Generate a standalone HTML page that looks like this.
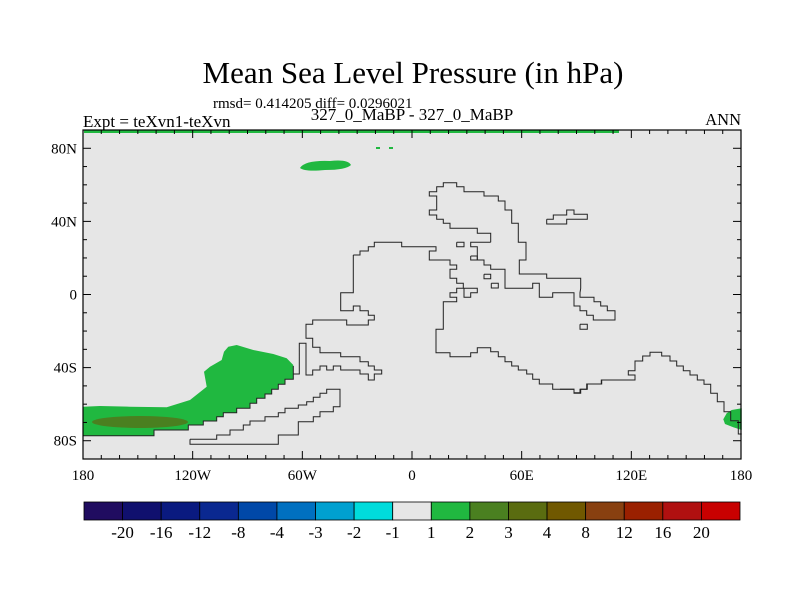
<!DOCTYPE html>
<html><head><meta charset="utf-8"><style>
body{margin:0;background:#fff;}
svg{display:block;font-family:"Liberation Serif",serif;}
</style></head><body>
<svg id="chart" width="800" height="600" viewBox="0 0 800 600">
<text x="413" y="83" font-size="31" text-anchor="middle">Mean Sea Level Pressure (in hPa)</text>
<text x="213" y="108" font-size="15">rmsd= 0.414205 diff= 0.0296021</text>
<text x="412" y="120" font-size="17" text-anchor="middle">327_0_MaBP - 327_0_MaBP</text>
<text x="83" y="127" font-size="17">Expt = teXvn1-teXvn</text>
<text x="741" y="125" font-size="16.5" text-anchor="end">ANN</text>
<g id="map">
<rect x="83" y="130" width="658" height="329" fill="#e6e6e6"/>
<g id="fills"></g>
<g id="coast" fill="none" stroke="#222" stroke-width="1"></g>
<g id="ticks" stroke="#000" stroke-width="1"></g>
<rect x="83" y="130" width="658" height="329" fill="none" stroke="#000" stroke-width="1.2"/>
</g>
<g id="labels" font-size="15"></g>
<g id="cbar"></g>
</svg>
<script>
const levels=["-20","-16","-12","-8","-4","-3","-2","-1","1","2","3","4","8","12","16","20"];
const levelLabels=["-20","-16","-12","-8","-4","-3","-2","-1","1","2","3","4","8","12","16","20"];
const colors=["#200c60","#10106e","#0a1a80","#0a2890","#0048a8","#0070c0","#00a0d0","#00dcdc","#e6e6e6","#20b840","#4a8020","#5a6c10","#705800","#884010","#9a2000","#b01010","#c80000"];
const lonTicks=[-180,-120,-60,0,60,120,180];
const lonLabels=["180","120W","60W","0","60E","120E","180"];
const latTicks=[80,40,0,-40,-80];
const latLabels=["80N","40N","0","40S","80S"];
const NS="http://www.w3.org/2000/svg";
const X=lon=>83+(lon+180)*658/360;
const Y=lat=>130+(90-lat)*329/180;
function mk(tag,attrs,parent){const e=document.createElementNS(NS,tag);for(const k in attrs)e.setAttribute(k,attrs[k]);parent.appendChild(e);return e;}
const tg=document.getElementById('ticks');
for(let lon=-180;lon<=180;lon+=10){const maj=lon%60===0;const L=maj?8:4;
const a=mk('line',{x1:X(lon),x2:X(lon),y1:459,y2:459-L},tg);
const b=mk('line',{x1:X(lon),x2:X(lon),y1:130,y2:130+L},tg);}
for(let lat=-90;lat<=90;lat+=10){const maj=lat%40===0;const L=maj?8:4;
const a=mk('line',{x1:83,x2:83+L,y1:Y(lat),y2:Y(lat)},tg);
const b=mk('line',{x1:741,x2:741-L,y1:Y(lat),y2:Y(lat)},tg);}
const lg=document.getElementById('labels');
lonTicks.forEach((v,i)=>{const t=mk('text',{x:X(v),y:480,'text-anchor':'middle'},lg);t.textContent=lonLabels[i];
});
latTicks.forEach((v,i)=>{const t=mk('text',{x:77,y:Y(v)+5,'text-anchor':'end'},lg);t.textContent=latLabels[i];
});
const cg=document.getElementById('cbar');const cw=656/colors.length;
colors.forEach((c,i)=>{const r=mk('rect',{x:84+i*cw,y:502,width:cw,height:18,fill:c,stroke:'#000','stroke-width':0.8},cg);
});
levelLabels.forEach((s,i)=>{const t=mk('text',{x:84+(i+1)*cw,y:538,'font-size':17,'text-anchor':'middle'},cg);t.textContent=s;
});
const fg=document.getElementById('fills');
function zp(pts,ox,oy,s){return pts.map(p=>(ox+p[0]/s).toFixed(1)+','+(oy+p[1]/s).toFixed(1)).join(' ');}
const greenBig=[[10,350],[60,348],[150,350],[260,352],[330,330],[380,290],[372,245],[390,230],[425,210],[432,185],[445,170],[470,165],[520,180],[580,192],[620,205],[640,225],[640,268],[615,268],[615,283],[595,283],[595,298],[575,298],[575,312],[555,312],[555,325],[530,325],[530,340],[510,340],[510,355],[470,355],[470,368],[430,368],[430,380],[410,380],[410,393],[370,393],[370,405],[325,405],[325,420],[222,420],[222,437],[10,437]];
let p=mk('polygon',{points:zp(greenBig,80,290,3),fill:'#20b840'},fg);
p=mk('ellipse',{cx:140,cy:422,rx:48,ry:6,fill:'#4a8020'},fg);
p=mk('path',{d:'M300,168 Q305,160 330,161 Q348,159 351,165 Q346,170 325,170 Q305,172 300,168Z',fill:'#20b840'},fg);
p=mk('rect',{x:84,y:130,width:535,height:3,fill:'#20b840'},fg);
p=mk('rect',{x:376,y:147,width:4,height:2,fill:'#20b840'},fg);
p=mk('rect',{x:389,y:147,width:4,height:2,fill:'#20b840'},fg);
p=mk('polygon',{points:zp([[490,268],[500,250],[515,240],[545,235],[545,300],[520,292],[495,282]],560,330,3),fill:'#20b840'},fg);
const cst=document.getElementById('coast');
const z3=[
[[220,255],[240,255],[240,243],[265,243],[265,230],[283,230],[283,217],[365,217],[365,230],[468,230],[468,243],[448,243],[448,270],[510,270],[510,285],[530,285],[530,298],[510,298],[510,325],[530,325],[530,340],[550,340],[550,355],[530,355],[530,368],[510,368],[510,382],[530,382],[530,395],[490,395],[490,478],[468,478],[468,548],[510,548],[510,560],[572,560],[572,548],[592,548],[592,533],[632,533],[632,545],[655,545],[655,560],[675,560],[675,575],[695,575],[695,588],[715,588],[715,600],[740,600],[740,612],[758,612],[758,628],[778,628],[778,642],[818,642],[818,658],[882,658],[882,668],[900,668],[900,658],[920,658],[920,642],[965,642],[965,630],[1020,630]],
[[220,255],[220,368],[182,368],[182,422],[220,422],[220,408],[240,408],[240,422],[265,422],[265,436],[283,436],[283,450],[265,450],[265,465],[200,465],[200,450],[98,450],[98,463],[78,463],[78,505],[98,505],[98,532],[120,532],[120,548],[182,548],[182,560],[240,560],[240,575],[265,575],[265,588],[283,588],[283,600],[305,600],[305,612],[283,612],[283,630],[265,630],[265,612],[240,612],[240,600],[182,600],[182,588],[160,588],[160,600],[140,600],[140,588],[120,588],[120,600],[98,600],[98,615],[78,615],[78,520],[58,520],[58,612],[40,612]],
[[632,217],[572,217],[572,230],[592,230],[592,270],[612,270],[612,285],[632,285],[632,298],[675,298],[675,355],[758,355],[758,340],[778,340],[778,382],[818,382],[818,368],[882,368],[882,408],[900,408],[900,422],[920,422],[920,436],[940,436],[940,450],[1005,450],[1005,422],[982,422],[982,408],[962,408],[962,395],[942,395],[942,382],[900,382],[900,368],[902,355],[902,325],[800,325],[800,312],[718,312],[718,270],[738,270],[738,217],[715,217],[715,160],[695,160],[695,120],[675,120],[675,93],[655,93],[655,78],[612,78],[612,65],[552,65],[552,50],[530,50],[530,38],[490,38],[490,50],[470,50],[470,65],[448,65],[448,78],[470,78],[470,120],[448,120],[448,135],[470,135],[470,148],[490,148],[490,160],[510,160],[510,175],[592,175],[592,190],[632,190],[632,217]],
[[530,217],[552,217],[552,230],[530,230],[530,217]],
[[572,258],[592,258],[592,270],[572,270],[572,258]],
[[612,313],[632,313],[632,326],[612,326],[612,313]],
[[634,340],[655,340],[655,354],[634,354],[634,340]],
[[900,463],[922,463],[922,478],[900,478],[900,463]],
[[550,355],[592,355],[592,368],[572,368],[572,382],[552,382],[552,355]],
[[800,148],[820,148],[820,135],[860,135],[860,120],[882,120],[882,133],[922,133],[922,148],[860,148],[860,162],[800,162],[800,148]]
];
z3.forEach(l=>{const e=mk('polyline',{points:zp(l,280,170,3)},cst);});
const z4=[
[[640,228],[640,268],[615,268],[615,283],[595,283],[595,298],[575,298],[575,312],[555,312],[555,325],[530,325],[530,340],[510,340],[510,355],[470,355],[470,368],[430,368],[430,380],[410,380],[410,393],[370,393],[370,405],[325,405],[325,420],[222,420],[222,437],[155,437],[10,437]],
[[330,448],[330,463],[595,463],[595,435],[655,435],[655,395],[700,395],[700,380],[720,380],[720,365],[760,365],[760,350],[780,350],[780,298],[740,298],[740,310],[720,310],[720,322],[700,322],[700,335],[680,335],[680,345],[655,345],[655,355],[615,355],[615,368],[595,368],[595,380],[555,380],[555,393],[510,393],[510,405],[490,405],[490,420],[450,420],[450,435],[410,435],[410,448],[330,448]]
];
z4.forEach(l=>{const e=mk('polyline',{points:zp(l,80,290,3)},cst);});
const z5=[[0,178],[42,178],[42,190],[62,190],[62,178],[82,178],[82,162],[124,162],[124,150],[225,150],[225,135],[205,135],[205,122],[225,122],[225,93],[248,93],[248,78],[270,78],[270,67],[305,67],[305,78],[330,78],[330,93],[350,93],[350,108],[370,108],[370,122],[390,122],[390,135],[412,135],[412,150],[432,150],[432,163],[452,163],[452,190],[472,190],[472,215],[492,215],[492,245],[512,245],[512,272],[535,272],[535,312],[545,312]];
let e5=mk('polyline',{points:zp(z5,560,330,3)},cst);
</script>
</body></html>
